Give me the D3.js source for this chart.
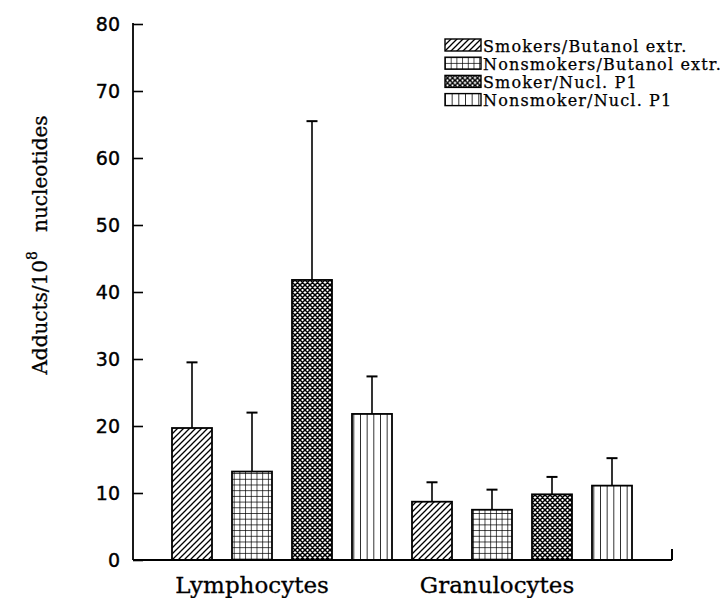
<!DOCTYPE html>
<html>
<head>
<meta charset="utf-8">
<script src="https://cdn.jsdelivr.net/npm/d3@7"></script>
<style>
html,body{margin:0;padding:0;background:#fff;}
</style>
</head>
<body>
<svg id="chart" width="723" height="598"></svg>
<script>
const groups = ["Lymphocytes", "Granulocytes"];
const series = ["Smokers/Butanol extr.", "Nonsmokers/Butanol extr.", "Smoker/Nucl. P1", "Nonsmoker/Nucl. P1"];
const patternIds = ["pDiag", "pGrid", "pCross", "pVert"];
// values[seriesIndex][groupIndex]
const smokersButanol = [19.7, 8.7];
const nonsmokersButanol = [13.2, 7.5];
const smokerNucl = [41.8, 9.8];
const nonsmokerNucl = [21.8, 11.1];
const values = [smokersButanol, nonsmokersButanol, smokerNucl, nonsmokerNucl];
// upper error bar ends
const smokersButanolErr = [29.5, 11.6];
const nonsmokersButanolErr = [22.0, 10.5];
const smokerNuclErr = [65.5, 12.4];
const nonsmokerNuclErr = [27.4, 15.2];
const errTops = [smokersButanolErr, nonsmokersButanolErr, smokerNuclErr, nonsmokerNuclErr];
const yTicks = [0, 10, 20, 30, 40, 50, 60, 70, 80];

const svg = d3.select("#chart");
const axisLeft = 133, axisRight = 672, yTop = 24, yBottom = 560;
const serif = "DejaVu Serif";

const y = d3.scaleLinear().domain([0, 80]).range([yBottom, yTop]);
const x0 = d3.scaleBand().domain(groups).range([162, 642]).padding(0);
const x1 = d3.scaleBand().domain(series).range([0, x0.bandwidth()]).paddingInner(1/3).paddingOuter(1/6);

// patterns
const defs = svg.append("defs");
let p = defs.append("pattern").attr("id", "pDiag").attr("patternUnits", "userSpaceOnUse")
  .attr("width", 6).attr("height", 6);
p.append("rect").attr("width", 6).attr("height", 6).attr("fill", "#fff");
p.append("path").attr("d", "M-1,7 L7,-1 M-4,4 L4,-4 M2,10 L10,2").attr("stroke", "#000").attr("stroke-width", 1.3);
p = defs.append("pattern").attr("id", "pGrid").attr("patternUnits", "userSpaceOnUse")
  .attr("width", 5.7).attr("height", 5.7);
p.append("rect").attr("width", 5.7).attr("height", 5.7).attr("fill", "#fff");
p.append("path").attr("d", "M0,0 L0,5.7 M0,0 L5.7,0").attr("stroke", "#000").attr("stroke-width", 1.4);
p = defs.append("pattern").attr("id", "pCross").attr("patternUnits", "userSpaceOnUse")
  .attr("width", 5).attr("height", 5);
p.append("rect").attr("width", 5).attr("height", 5).attr("fill", "#fff");
p.append("path").attr("d", "M-1,6 L6,-1 M-1,-1 L6,6 M-3.5,3.5 L3.5,-3.5 M1.5,8.5 L8.5,1.5 M1.5,-3.5 L8.5,3.5 M-3.5,1.5 L3.5,8.5")
  .attr("stroke", "#000").attr("stroke-width", 1.5);
p = defs.append("pattern").attr("id", "pVert").attr("patternUnits", "userSpaceOnUse")
  .attr("width", 40/6).attr("height", 10);
p.append("rect").attr("width", 40/6).attr("height", 10).attr("fill", "#fff");
p.append("path").attr("d", "M0,0 L0,10").attr("stroke", "#000").attr("stroke-width", 1.6);

// axes
const yAxis = d3.axisLeft(y).tickValues(yTicks).tickSize(-10).tickPadding(13).tickFormat(d3.format("d"));
const gy = svg.append("g").attr("transform", `translate(${axisLeft},0)`).call(yAxis);
gy.select(".domain").remove();
gy.selectAll(".tick line").attr("stroke", "#000").attr("stroke-width", 1.6);
gy.selectAll(".tick text").attr("font-family", "DejaVu Sans").attr("font-size", 19).attr("fill", "#000")
  .attr("stroke", "#000").attr("stroke-width", 0.4).attr("dy", "0.36em");
svg.append("line").attr("x1", axisLeft).attr("x2", axisLeft).attr("y1", yTop - 1).attr("y2", yBottom)
  .attr("stroke", "#000").attr("stroke-width", 1.8);

// bars
series.forEach((s, si) => {
  const g = svg.append("g");
  groups.forEach((gname, gi) => {
    const bx = x0(gname) + x1(s);
    const bw = x1.bandwidth();
    const cx = bx + bw / 2;
    g.append("line").attr("x1", cx).attr("x2", cx).attr("y1", y(values[si][gi])).attr("y2", y(errTops[si][gi]))
      .attr("stroke", "#000").attr("stroke-width", 1.6);
    g.append("line").attr("x1", cx - 5.5).attr("x2", cx + 5.5).attr("y1", y(errTops[si][gi])).attr("y2", y(errTops[si][gi]))
      .attr("stroke", "#000").attr("stroke-width", 2);
    g.append("rect").attr("x", bx).attr("y", y(values[si][gi])).attr("width", bw)
      .attr("height", y(0) - y(values[si][gi]))
      .attr("fill", `url(#${patternIds[si]})`).attr("stroke", "#000").attr("stroke-width", 1.8);
  });
});

// x axis
svg.append("line").attr("x1", axisLeft).attr("x2", axisRight).attr("y1", yBottom).attr("y2", yBottom)
  .attr("stroke", "#000").attr("stroke-width", 1.8);
svg.append("line").attr("x1", axisRight).attr("x2", axisRight).attr("y1", yBottom).attr("y2", yBottom - 11)
  .attr("stroke", "#000").attr("stroke-width", 2);

// group labels
const labelShift = [0, 5];
groups.forEach((gname, gi) => {
  svg.append("text").attr("x", x0(gname) + x1(series[1]) + x1.bandwidth() / 2 + labelShift[gi]).attr("y", 593)
    .attr("text-anchor", "middle").attr("font-family", serif).attr("font-size", 23).attr("fill", "#000")
    .attr("stroke", "#000").attr("stroke-width", 0.3)
    .text(gname);
});

// y label
const yl = svg.append("text").attr("transform", "translate(47,245) rotate(-90)")
  .attr("text-anchor", "middle").attr("font-family", serif).attr("font-size", 20).attr("fill", "#000")
  .attr("stroke", "#000").attr("stroke-width", 0.3);
yl.append("tspan").text("Adducts/10");
yl.append("tspan").attr("dy", -10).attr("font-size", 14).text("8");
yl.append("tspan").attr("dy", 10).text("\u00a0\u00a0\u00a0nucleotides");

// legend
const leg = svg.append("g").attr("transform", "translate(445,39)");
series.forEach((s, i) => {
  const row = leg.append("g").attr("transform", `translate(0,${i * 18.2})`);
  row.append("rect").attr("x", 0).attr("y", 0).attr("width", 36).attr("height", 12)
    .attr("fill", `url(#${patternIds[i]})`).attr("stroke", "#000").attr("stroke-width", 1.4);
  row.append("text").attr("x", 38).attr("y", 12.5).attr("font-family", serif).attr("font-size", 16)
    .attr("letter-spacing", 1.15)
    .attr("fill", "#000").attr("stroke", "#000").attr("stroke-width", 0.25).text(s);
});
</script>
</body>
</html>
